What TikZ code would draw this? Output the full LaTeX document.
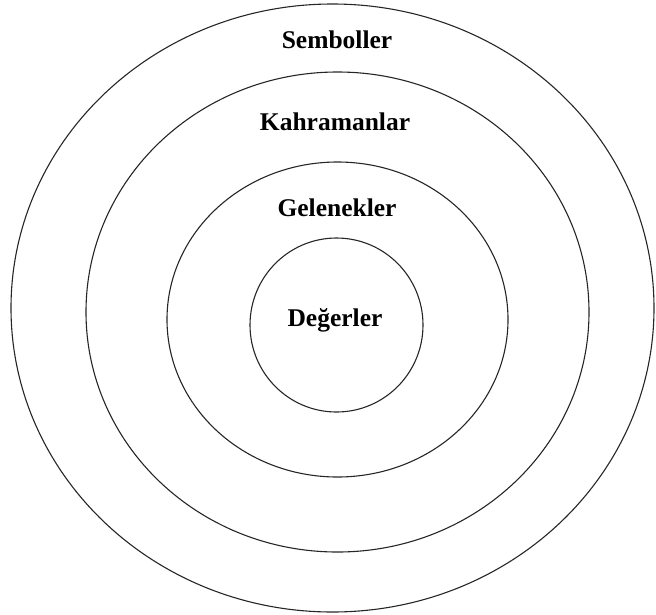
\documentclass[tikz,border=0pt]{standalone}
\usepackage{fontspec}
\setmainfont{Liberation Serif}
\begin{document}
\begin{tikzpicture}[x=1pt,y=-1pt,
  ring/.style={draw=black!85,line width=1.1pt},
  lbl/.style={font=\bfseries\fontsize{25.5}{30}\selectfont,inner sep=0pt}]
\useasboundingbox (0,0) rectangle (656,614);
\draw[ring] (332.5,308) ellipse [x radius=321.5, y radius=304];
\draw[ring] (337.5,312) ellipse [x radius=251.5, y radius=240];
\draw[ring] (337.5,319.5) ellipse [x radius=170.5, y radius=157.5];
\draw[ring] (336.5,325) ellipse [x radius=86.5, y radius=87];
\node[lbl] (semboller) at (337,40) {Semboller};
\node[lbl] (kahramanlar) at (335,122) {Kahramanlar};
\node[lbl] (gelenekler) at (337,208) {Gelenekler};
\node[lbl] (degerler) at (335,320) {Değerler};
\end{tikzpicture}
\end{document}
